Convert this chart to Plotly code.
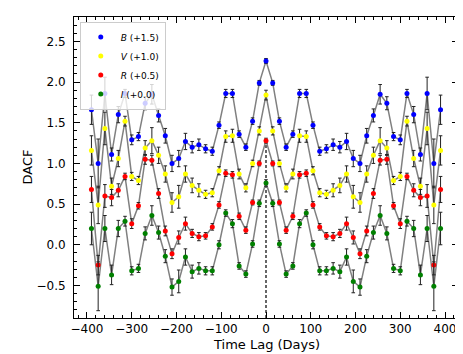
import plotly.graph_objects as go

# time lags (days), DACF bins of 15 days
lags = [-390, -375, -360, -345, -330, -315, -300, -285, -270, -255, -240, -225, -210,
        -195, -180, -165, -150, -135, -120, -105, -90, -75, -60, -45, -30, -15, 0,
        15, 30, 45, 60, 75, 90, 105, 120, 135, 150, 165, 180, 195, 210,
        225, 240, 255, 270, 285, 300, 315, 330, 345, 360, 375, 390]

# DACF values already shifted by the offsets in the legend
dacf_b = [1.66, 1.00, 1.86, 1.11, 1.60, 1.86, 1.29, 1.33, 1.74, 1.85, 1.59, 1.34, 1.00,
          1.06, 1.27, 1.20, 1.23, 1.18, 1.15, 1.47, 1.86, 1.86, 1.36, 1.20, 1.52, 1.99, 2.26,
          1.99, 1.52, 1.20, 1.36, 1.86, 1.86, 1.47, 1.15, 1.18, 1.23, 1.20, 1.27, 1.06, 1.00,
          1.34, 1.59, 1.85, 1.74, 1.33, 1.29, 1.86, 1.60, 1.11, 1.86, 1.00, 1.66]
err_b = [0.18, 0.30, 0.20, 0.08, 0.10, 0.05, 0.06, 0.05, 0.08, 0.12, 0.08, 0.09, 0.10,
         0.10, 0.10, 0.07, 0.07, 0.05, 0.05, 0.04, 0.05, 0.05, 0.04, 0.04, 0.04, 0.03, 0.03,
         0.03, 0.04, 0.04, 0.04, 0.05, 0.05, 0.04, 0.05, 0.05, 0.07, 0.07, 0.10, 0.10, 0.10,
         0.09, 0.08, 0.12, 0.08, 0.05, 0.06, 0.05, 0.10, 0.08, 0.20, 0.30, 0.18]

dacf_v = [1.16, 0.49, 1.43, 0.72, 1.06, 1.52, 0.84, 0.79, 1.19, 1.28, 1.10, 0.87, 0.52,
          0.59, 0.87, 0.73, 0.67, 0.62, 0.64, 0.91, 1.33, 1.34, 0.87, 0.70, 1.00, 1.40, 1.84,
          1.40, 1.00, 0.70, 0.87, 1.34, 1.33, 0.91, 0.64, 0.62, 0.67, 0.73, 0.87, 0.59, 0.52,
          0.87, 1.10, 1.28, 1.19, 0.79, 0.84, 1.52, 1.06, 0.72, 1.43, 0.49, 1.16]
err_v = [0.18, 0.23, 0.20, 0.10, 0.10, 0.06, 0.05, 0.05, 0.09, 0.16, 0.10, 0.10, 0.12,
         0.14, 0.10, 0.09, 0.08, 0.05, 0.05, 0.05, 0.07, 0.08, 0.06, 0.05, 0.04, 0.05, 0.06,
         0.05, 0.04, 0.05, 0.06, 0.08, 0.07, 0.05, 0.05, 0.05, 0.08, 0.09, 0.10, 0.14, 0.12,
         0.10, 0.10, 0.16, 0.09, 0.05, 0.05, 0.06, 0.10, 0.10, 0.20, 0.23, 0.18]

dacf_r = [0.68, -0.25, 0.60, 0.58, 0.67, 0.84, 0.26, 0.48, 1.05, 1.04, 0.63, 0.17, -0.11,
          0.09, 0.26, 0.14, 0.10, 0.11, 0.22, 0.49, 0.88, 0.86, 0.35, 0.18, 0.52, 1.00, 1.28,
          1.00, 0.52, 0.18, 0.35, 0.86, 0.88, 0.49, 0.22, 0.11, 0.10, 0.14, 0.26, 0.09, -0.11,
          0.17, 0.63, 1.04, 1.05, 0.48, 0.26, 0.84, 0.67, 0.58, 0.60, -0.25, 0.68]
err_r = [0.16, 0.12, 0.14, 0.10, 0.08, 0.04, 0.06, 0.04, 0.06, 0.06, 0.06, 0.06, 0.06,
         0.08, 0.08, 0.05, 0.05, 0.04, 0.04, 0.04, 0.04, 0.04, 0.04, 0.04, 0.03, 0.03, 0.03,
         0.03, 0.03, 0.04, 0.04, 0.04, 0.04, 0.04, 0.04, 0.04, 0.05, 0.05, 0.08, 0.08, 0.06,
         0.06, 0.06, 0.06, 0.06, 0.04, 0.06, 0.04, 0.08, 0.10, 0.14, 0.12, 0.16]

dacf_i = [0.20, -0.51, 0.20, -0.37, 0.20, 0.29, -0.32, -0.29, 0.14, 0.36, 0.15, -0.14, -0.52,
          -0.45, -0.15, -0.33, -0.29, -0.32, -0.32, 0.00, 0.39, 0.26, -0.26, -0.36, 0.01, 0.51, 0.76,
          0.51, 0.01, -0.36, -0.26, 0.26, 0.39, 0.00, -0.32, -0.32, -0.29, -0.33, -0.15, -0.45, -0.52,
          -0.14, 0.15, 0.36, 0.14, -0.29, -0.32, 0.29, 0.20, -0.37, 0.20, -0.51, 0.20]
err_i = [0.20, 0.30, 0.16, 0.12, 0.10, 0.06, 0.05, 0.05, 0.08, 0.12, 0.08, 0.08, 0.10,
         0.14, 0.10, 0.08, 0.07, 0.05, 0.05, 0.05, 0.04, 0.05, 0.04, 0.04, 0.04, 0.04, 0.04,
         0.04, 0.04, 0.04, 0.04, 0.05, 0.04, 0.05, 0.05, 0.05, 0.07, 0.08, 0.10, 0.14, 0.10,
         0.08, 0.08, 0.12, 0.08, 0.05, 0.05, 0.06, 0.10, 0.12, 0.16, 0.30, 0.20]

series = [
    ("<i>B</i> (+1.5)", dacf_b, err_b, "#0000ff"),
    ("<i>V</i> (+1.0)", dacf_v, err_v, "#ffff00"),
    ("<i>R</i> (+0.5)", dacf_r, err_r, "#ff0000"),
    ("<i>I</i> (+0.0)", dacf_i, err_i, "#008000"),
]

X_RANGE = [-429, 429]
Y_RANGE = [-0.9, 2.8]

fig = go.Figure()

# zero-lag marker
zero_idx = lags.index(0)
fig.add_shape(type="line", x0=0, x1=0, y0=Y_RANGE[0], y1=dacf_r[zero_idx],
              line=dict(color="black", width=1.2, dash="3px,2px"), layer="below")

# gray connecting lines first
for name, vals, errs, color in series:
    fig.add_trace(go.Scatter(x=lags, y=vals, mode="lines",
                             line=dict(color="#808080", width=1.5),
                             showlegend=False, hoverinfo="skip"))

# points with error bars
for name, vals, errs, color in series:
    fig.add_trace(go.Scatter(
        x=lags, y=vals, mode="markers", name=name,
        marker=dict(color=color, size=5, line=dict(width=0)),
        error_y=dict(type="data", array=errs, visible=True,
                     color="#222222", thickness=1, width=1.8),
    ))

axis_style = dict(
    showline=True, linecolor="black", linewidth=1, mirror="allticks",
    ticks="inside", ticklen=6, tickwidth=1, tickcolor="black",
    showgrid=False, zeroline=False, automargin=False,
    tickfont=dict(family="DejaVu Sans", size=12, color="black"),
)

fig.update_xaxes(range=X_RANGE, dtick=100, tick0=0,
                 minor=dict(dtick=20, ticks="inside", ticklen=3, tickcolor="black"),
                 **axis_style)
fig.update_yaxes(range=Y_RANGE, dtick=0.5, tick0=0, tickformat=".1f",
                 ticklabelstandoff=5,
                 minor=dict(dtick=0.1, ticks="inside", ticklen=3, tickcolor="black"),
                 **axis_style)

# axis titles as annotations so they sit where the reference has them
title_font = dict(family="DejaVu Sans", size=13, color="black")
fig.add_annotation(text="Time Lag (Days)", xref="paper", yref="paper", x=0.5, y=0,
                   yanchor="middle", yshift=-26, borderpad=0, showarrow=False,
                   font=title_font)
fig.add_annotation(text="DACF", xref="paper", yref="paper", x=0, y=0.5,
                   xanchor="center", xshift=-47, textangle=-90, borderpad=0,
                   showarrow=False, font=title_font)

# the page adds an 8px body margin, so the figure is 8px smaller than the window
fig.update_layout(
    width=455, height=346,
    margin=dict(l=66, r=5, t=9, b=36),
    plot_bgcolor="white", paper_bgcolor="white",
    legend=dict(x=0.015, y=0.985, xanchor="left", yanchor="top",
                bgcolor="rgba(255,255,255,0.8)", bordercolor="#cccccc", borderwidth=1,
                font=dict(family="DejaVu Sans", size=9, color="black"),
                tracegroupgap=0, itemwidth=30),
)

fig.write_html("out.html")
